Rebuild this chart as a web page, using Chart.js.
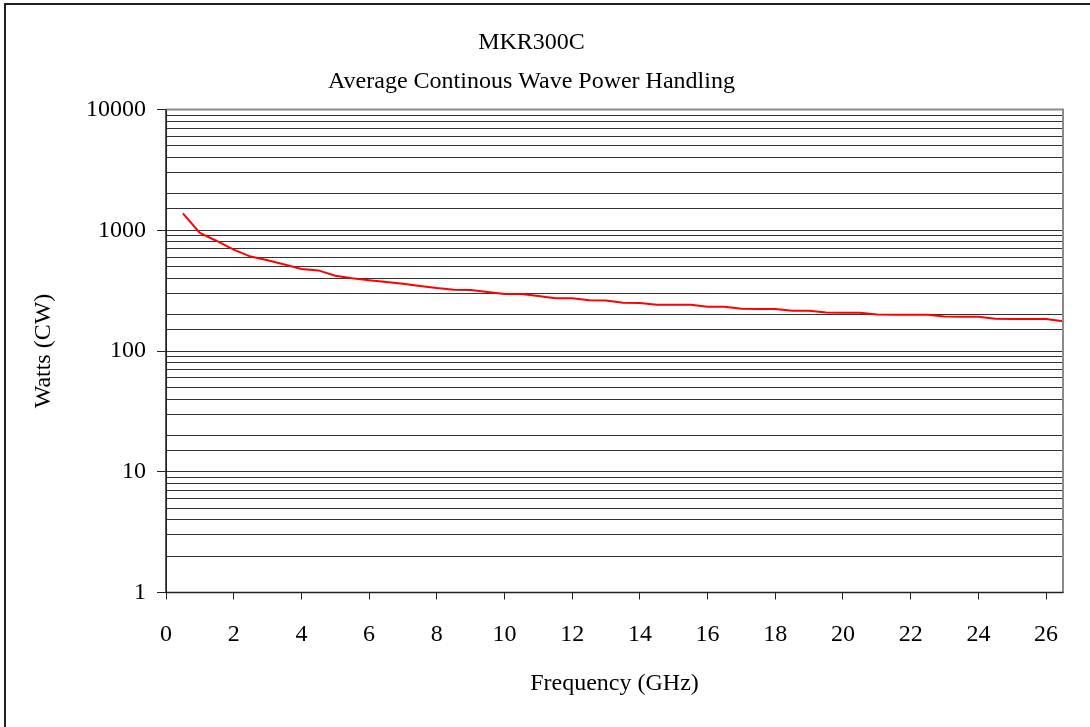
<!DOCTYPE html>
<html>
<head>
<meta charset="utf-8">
<script src="https://cdn.jsdelivr.net/npm/chart.js@4.4.1/dist/chart.umd.min.js"></script>
<style>
    html, body { margin: 0; padding: 0; background: #fff; overflow: hidden; }
    #wrap { position: relative; width: 1090px; height: 727px; }
    #frame { position: absolute; left: 4px; top: 3px; width: 1200px; height: 800px; border: 2px solid #222; }
    #powerChart { position: absolute; left: 0; top: 0; }
</style>
</head>
<body>
<div id="wrap">
    <div id="frame"></div>
    <canvas id="powerChart" width="1090" height="727"></canvas>
</div>
<script>
// frequency points in GHz
const frequencies = [0.5, 1, 1.5, 2, 2.5, 3, 3.5, 4, 4.5, 5, 5.5, 6, 6.5, 7, 7.5, 8, 8.5, 9, 9.5,
    10, 10.5, 11, 11.5, 12, 12.5, 13, 13.5, 14, 14.5, 15, 15.5, 16, 16.5, 17, 17.5, 18, 18.5,
    19, 19.5, 20, 20.5, 21, 21.5, 22, 22.5, 23, 23.5, 24, 24.5, 25, 25.5, 26, 26.5];

// average CW power handling (watts)
const watts = [1380, 950, 815, 690, 605, 565, 520, 478, 465, 420, 400, 385, 372, 360, 345, 332,
    322, 320, 308, 297, 296, 285, 274, 273, 263, 262, 251, 250, 242, 241, 241, 233, 232,
    224, 223, 223, 215, 215, 208, 207, 207, 201, 200, 200, 200, 193, 192, 192, 185, 184,
    184, 184, 176];

const titleLines = ['MKR300C', 'Average Continous Wave Power Handling'];
const xTitle = 'Frequency (GHz)';
const yTitle = 'Watts (CW)';
const yLabels = [1, 10, 100, 1000, 10000];

const serif = 'Liberation Serif, Times New Roman, serif';

const points = frequencies.map((f, i) => ({ x: f, y: watts[i] }));

const plotFrame = {
    id: 'plotFrame',
    afterDraw(chart) {
        const a = chart.chartArea;
        const ctx = chart.ctx;
        ctx.save();
        ctx.strokeStyle = '#8a8a8a';
        ctx.lineWidth = 2;
        ctx.beginPath();
        ctx.moveTo(a.left, a.top);
        ctx.lineTo(a.right, a.top);
        ctx.lineTo(a.right, a.bottom);
        ctx.stroke();
        ctx.strokeStyle = '#222';
        ctx.lineWidth = 1.5;
        ctx.beginPath();
        ctx.moveTo(a.left, a.top);
        ctx.lineTo(a.left, a.bottom);
        ctx.lineTo(a.right, a.bottom);
        ctx.stroke();
        ctx.restore();
    }
};

const ctx = document.getElementById('powerChart').getContext('2d');
new Chart(ctx, {
    type: 'line',
    data: {
        datasets: [{
            data: points,
            borderColor: '#ff0000',
            borderWidth: 2,
            pointRadius: 0,
            tension: 0,
            fill: false
        }]
    },
    options: {
        responsive: false,
        animation: false,
        layout: { padding: { left: 0, right: 27, top: 0, bottom: 0 } },
        plugins: {
            legend: { display: false },
            tooltip: { enabled: false },
            title: {
                display: true,
                text: titleLines,
                color: '#000',
                font: { family: serif, size: 24, weight: 'normal', lineHeight: 1.625 },
                padding: { top: 23.5, bottom: 8 }
            }
        },
        scales: {
            x: {
                type: 'linear',
                min: 0,
                max: 26.5,
                afterFit(scale) { scale.height = 134.5; },
                border: { display: true, color: '#222', width: 1 },
                grid: { drawOnChartArea: false, tickLength: 7, color: '#222' },
                ticks: {
                    stepSize: 2,
                    includeBounds: false,
                    maxRotation: 0,
                    autoSkip: false,
                    padding: 21,
                    color: '#000',
                    font: { family: serif, size: 24 }
                },
                title: {
                    display: true,
                    text: xTitle,
                    color: '#000',
                    font: { family: serif, size: 24 },
                    padding: { top: 0, bottom: 29 }
                }
            },
            y: {
                type: 'logarithmic',
                min: 1,
                max: 10000,
                afterFit(scale) { scale.width = 166; },
                border: { display: true, color: '#222', width: 1 },
                grid: {
                    color: '#333',
                    lineWidth: 1,
                    tickLength: 9,
                    tickColor: c => {
                        const v = c.tick ? c.tick.value : 0;
                        return yLabels.includes(v) ? '#222' : 'rgba(0,0,0,0)';
                    }
                },
                ticks: {
                    autoSkip: false,
                    padding: 11,
                    color: '#000',
                    font: { family: serif, size: 24 },
                    callback: v => yLabels.includes(v) ? String(v) : ''
                },
                title: {
                    display: true,
                    text: yTitle,
                    color: '#000',
                    font: { family: serif, size: 24 },
                    padding: { top: 29, bottom: 0 }
                }
            }
        }
    },
    plugins: [plotFrame]
});
</script>
</body>
</html>
